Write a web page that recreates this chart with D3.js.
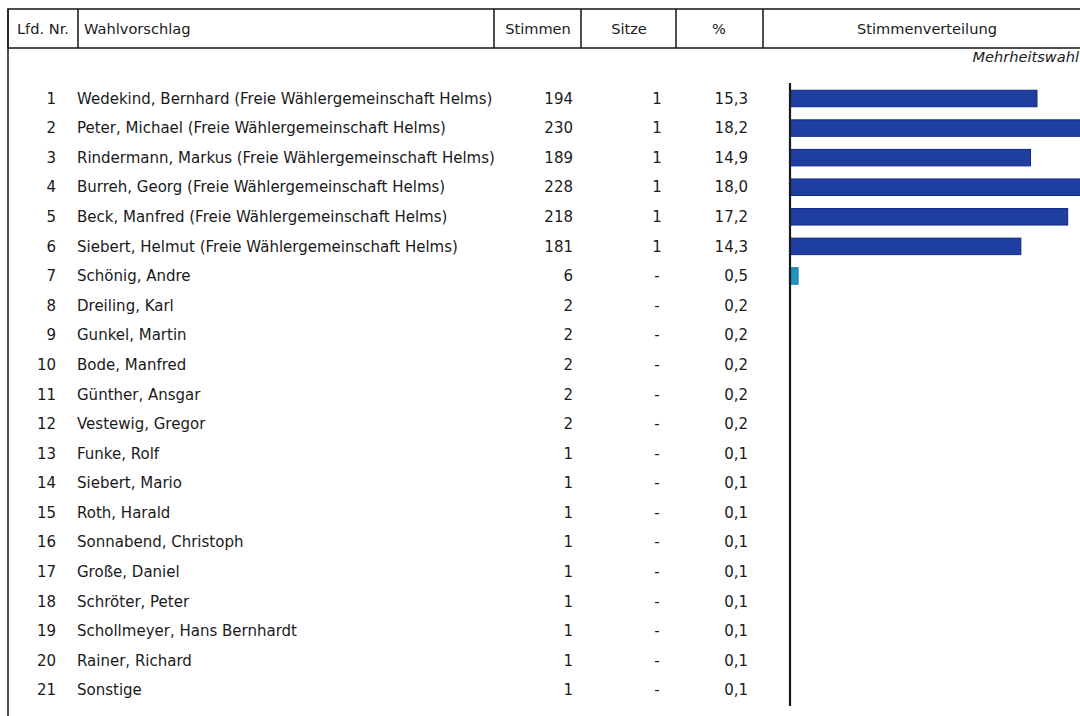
<!DOCTYPE html>
<html><head><meta charset="utf-8">
<script src="https://cdn.jsdelivr.net/npm/d3@7"></script>
<style>
html,body{margin:0;padding:0;background:#fff;overflow:hidden}
text{font-family:"DejaVu Sans",Verdana,sans-serif;fill:#1a1a1a}
</style></head><body>
<svg id="c" width="1080" height="716"></svg>
<script>
const numbers = [1,2,3,4,5,6,7,8,9,10,11,12,13,14,15,16,17,18,19,20,21];
const candidates = [
  "Wedekind, Bernhard (Freie Wählergemeinschaft Helms)",
  "Peter, Michael (Freie Wählergemeinschaft Helms)",
  "Rindermann, Markus (Freie Wählergemeinschaft Helms)",
  "Burreh, Georg (Freie Wählergemeinschaft Helms)",
  "Beck, Manfred (Freie Wählergemeinschaft Helms)",
  "Siebert, Helmut (Freie Wählergemeinschaft Helms)",
  "Schönig, Andre",
  "Dreiling, Karl",
  "Gunkel, Martin",
  "Bode, Manfred",
  "Günther, Ansgar",
  "Vestewig, Gregor",
  "Funke, Rolf",
  "Siebert, Mario",
  "Roth, Harald",
  "Sonnabend, Christoph",
  "Große, Daniel",
  "Schröter, Peter",
  "Schollmeyer, Hans Bernhardt",
  "Rainer, Richard",
  "Sonstige"
];
const votes = [194,230,189,228,218,181,6,2,2,2,2,2,1,1,1,1,1,1,1,1,1];
const seats = ["1","1","1","1","1","1","-","-","-","-","-","-","-","-","-","-","-","-","-","-","-"];
const percent = [15.3,18.2,14.9,18.0,17.2,14.3,0.5,0.2,0.2,0.2,0.2,0.2,0.1,0.1,0.1,0.1,0.1,0.1,0.1,0.1,0.1];
// bars shown in the "Stimmenverteilung" column (only the first seven are drawn in the source)
const barPercent = [15.3,18.2,14.9,18.0,17.2,14.3,0.5];
const headers = ["Lfd. Nr.","Wahlvorschlag","Stimmen","Sitze","%","Stimmenverteilung"];
const subtitle = "Mehrheitswahl";

const svg = d3.select("#c");
const fmt = v => d3.format(".1f")(v).replace(".", ",");
const FS = 15;

// layout
const colX = [8, 78, 494, 581, 676, 763, 1100];
const headTop = 9, headBot = 48;
const y = d3.scalePoint().domain(numbers).range([98.5, 690]);
const x0 = 790;
const x = d3.scaleLinear().domain([0, 15.3]).range([x0, 1037]);

// header box
const g = svg.append("g");
g.append("rect").attr("x", colX[0]).attr("y", headTop)
  .attr("width", colX[6]-colX[0]).attr("height", headBot-headTop)
  .attr("fill", "none").attr("stroke", "#222").attr("stroke-width", 1.6);
colX.slice(1, 6).forEach(cx => g.append("line")
  .attr("x1", cx).attr("x2", cx).attr("y1", headTop).attr("y2", headBot)
  .attr("stroke", "#222").attr("stroke-width", 1.6));
// left border down
g.append("line").attr("x1", colX[0]).attr("x2", colX[0]).attr("y1", headTop).attr("y2", 716)
  .attr("stroke", "#222").attr("stroke-width", 1.6);

const headPos = [[43,"middle"],[84,"start"],[538,"middle"],[629,"middle"],[719,"middle"],[927,"middle"]];
headers.forEach((h,i) => g.append("text")
  .attr("x", headPos[i][0]).attr("y", 29).attr("dy", "0.35em")
  .attr("text-anchor", headPos[i][1]).attr("font-size", 14.6).text(h));

g.append("text").attr("x", 1079).attr("y", 57).attr("dy","0.35em")
  .attr("text-anchor","end").attr("font-style","italic").attr("font-size", 14.6).text(subtitle);

// rows
const rows = svg.append("g").selectAll("g").data(numbers).join("g")
  .attr("transform", d => `translate(0,${y(d)})`);
rows.append("text").attr("x", 56).attr("dy","0.35em").attr("text-anchor","end")
  .attr("font-size", FS).text(d => d);
rows.append("text").attr("x", 77).attr("dy","0.35em")
  .attr("font-size", FS).text((d,i) => candidates[i]);
rows.append("text").attr("x", 573).attr("dy","0.35em").attr("text-anchor","end")
  .attr("font-size", FS).text((d,i) => votes[i]);
rows.append("text").attr("x", 657).attr("dy","0.35em").attr("text-anchor","middle")
  .attr("font-size", FS).text((d,i) => seats[i]);
rows.append("text").attr("x", 748).attr("dy","0.35em").attr("text-anchor","end")
  .attr("font-size", FS).text((d,i) => fmt(percent[i]));

// bars
const barH = 16.5;
svg.append("g").selectAll("rect").data(barPercent).join("rect")
  .attr("x", x0)
  .attr("y", (d,i) => y(numbers[i]) - barH/2)
  .attr("width", d => x(d) - x0)
  .attr("height", barH)
  .attr("fill", (d,i) => i < 6 ? "#1f3fa0" : "#1f93c4")
  .attr("stroke", (d,i) => i < 6 ? "#10288a" : "#137aa6")
  .attr("stroke-width", 1);

// axis line
svg.append("line").attr("x1", x0).attr("x2", x0).attr("y1", 83).attr("y2", 706)
  .attr("stroke", "#1a1a1a").attr("stroke-width", 2.2);
</script>
</body></html>
